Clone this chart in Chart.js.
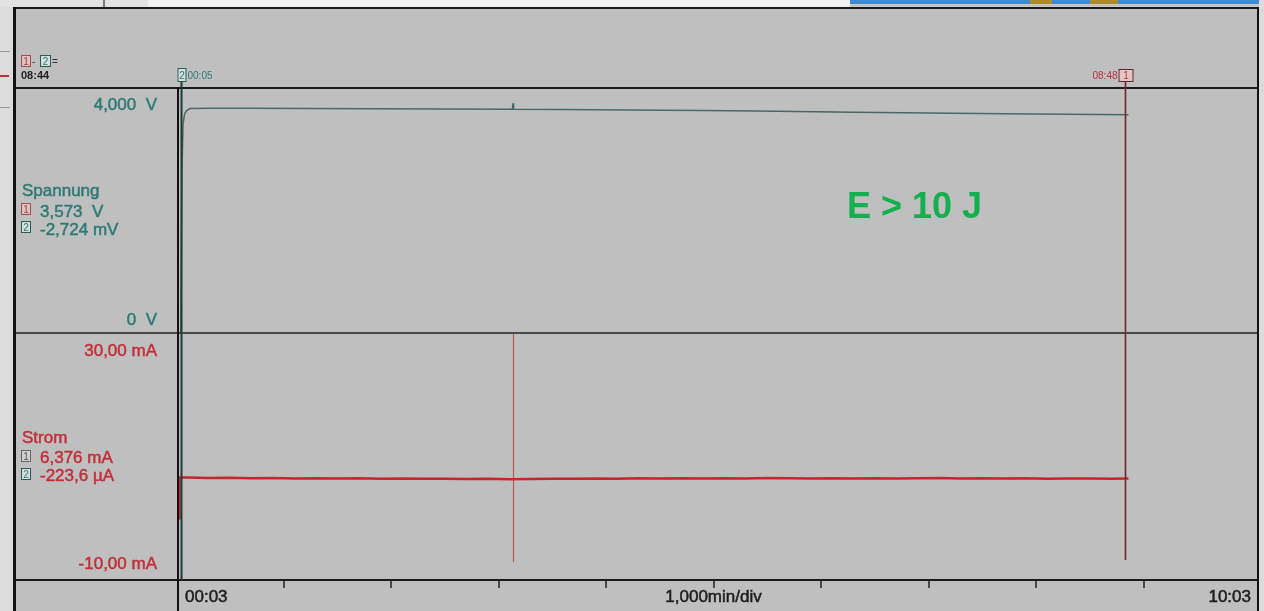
<!DOCTYPE html>
<html>
<head>
<meta charset="utf-8">
<script src="https://cdn.jsdelivr.net/npm/chart.js@4.4.1/dist/chart.umd.min.js"></script>
<style>
  html, body { margin: 0; padding: 0; background: #bfbfbf; overflow: hidden; }
  #wrap { position: relative; width: 1264px; height: 611px; }
  canvas { position: absolute; left: 0; top: 0; }
</style>
</head>
<body>
<div id="wrap">
  <canvas id="uChart" width="1264" height="611"></canvas>
  <canvas id="iChart" width="1264" height="611"></canvas>
</div>
<script>
// time axis: minutes after 00:03, 1,000 min/div, 10 div
const uTime = [0.045, 0.055, 0.065, 0.08, 0.1, 0.13, 0.3, 0.7, 1.2, 1.8, 2.5, 3.13, 3.135, 3.14, 3.6, 4.2, 4.9, 5.6, 6.3, 7.0, 7.7, 8.3, 8.86];
const uVals = [0.0, 2.6, 3.4, 3.58, 3.63, 3.665, 3.67, 3.668, 3.665, 3.662, 3.658, 3.655, 3.75, 3.655, 3.65, 3.642, 3.632, 3.62, 3.605, 3.592, 3.58, 3.572, 3.565];

const iTime = [0.028, 0.032, 0.1, 0.3, 0.5, 0.7, 0.9, 1.1, 1.3, 1.5, 1.7, 1.9, 2.1, 2.3, 2.5, 2.7, 2.9, 3.1, 3.3, 3.5, 3.7, 3.9, 4.1, 4.3, 4.5, 4.7, 4.9, 5.1, 5.3, 5.5, 5.7, 5.9, 6.1, 6.3, 6.5, 6.7, 6.9, 7.1, 7.3, 7.5, 7.7, 7.9, 8.1, 8.3, 8.5, 8.7, 8.86];
const iVals = [0.0, 6.6, 6.58, 6.52, 6.55, 6.47, 6.5, 6.44, 6.48, 6.42, 6.46, 6.4, 6.44, 6.38, 6.41, 6.36, 6.39, 6.32, 6.37, 6.41, 6.38, 6.44, 6.4, 6.46, 6.42, 6.47, 6.43, 6.49, 6.45, 6.5, 6.46, 6.44, 6.48, 6.43, 6.47, 6.42, 6.46, 6.5, 6.45, 6.48, 6.43, 6.46, 6.41, 6.45, 6.42, 6.4, 6.44];

const cursorTimes = [0.05, 8.83];   // cursor 2, cursor 1
const markerTimes = [3.135];
const divTicks = [1, 2, 3, 4, 5, 6, 7, 8, 9];

const FONT = "'Liberation Sans', Arial, sans-serif";
const TEAL = '#2f7a77';
const RED = '#c2303a';

function pts(t, v) { return t.map((x, i) => ({ x: x, y: v[i] })); }

function baseOptions(padTop, padBottom, yMin, yMax) {
    return {
        responsive: false,
        animation: false,
        events: [],
        layout: { padding: { left: 176, right: 13, top: padTop, bottom: padBottom } },
        plugins: { legend: { display: false }, tooltip: { enabled: false } },
        elements: { point: { radius: 0 }, line: { tension: 0 } },
        scales: {
            x: { type: 'linear', min: 0, max: 10, display: false },
            y: { min: yMin, max: yMax, display: false }
        }
    };
}

function box(ctx, x, y, w, h, label, stroke, fill, color) {
    ctx.fillStyle = fill;
    ctx.fillRect(x, y, w, h);
    ctx.strokeStyle = stroke;
    ctx.lineWidth = 1;
    ctx.strokeRect(x + 0.5, y + 0.5, w - 1, h - 1);
    ctx.fillStyle = color;
    ctx.font = '10px ' + FONT;
    ctx.textAlign = 'center';
    ctx.textBaseline = 'middle';
    ctx.fillText(label, x + w / 2, y + h / 2 + 1);
}

function text(ctx, s, x, y, color, font, align, thick) {
    ctx.fillStyle = color;
    ctx.font = font;
    ctx.textAlign = align || 'left';
    ctx.textBaseline = 'alphabetic';
    ctx.fillText(s, x, y);
    if (thick) {
        // JPEG-like heavier strokes
        ctx.strokeStyle = color;
        ctx.lineWidth = thick;
        ctx.strokeText(s, x, y);
    }
}

// Spannung
const uChart = new Chart(document.getElementById('uChart'), {
    type: 'line',
    data: {
        datasets: [{
            data: pts(uTime, uVals),
            borderColor: '#4a6666',
            borderWidth: 1.5
        }]
    },
    options: baseOptions(88, 278, 0, 4)
});

// Strom + Rahmen, Beschriftung, Cursor
const decor = {
    id: 'decor',
    beforeDatasetsDraw(chart) {
        const ctx = chart.ctx;
        const xs = chart.scales.x;
        ctx.save();
        markerTimes.forEach(t => {
            const x = Math.round(xs.getPixelForValue(t)) + 0.5;
            ctx.strokeStyle = '#c45858';
            ctx.lineWidth = 1.2;
            ctx.beginPath();
            ctx.moveTo(x, 334);
            ctx.lineTo(x, 562);
            ctx.stroke();
        });
        ctx.restore();
    },
    afterDraw(chart) {
        const ctx = chart.ctx;
        const xs = chart.scales.x;
        ctx.save();

        // outer strips
        ctx.fillStyle = '#dcdcdc';
        ctx.fillRect(0, 0, 13, 611);
        ctx.fillRect(1259, 0, 5, 611);
        ctx.fillStyle = '#e2e2e2';
        ctx.fillRect(0, 0, 148, 7);
        ctx.fillStyle = '#f1f1f1';
        ctx.fillRect(148, 0, 702, 7);
        ctx.fillStyle = '#c6c6c6';
        ctx.fillRect(850, 0, 409, 7);
        ctx.fillStyle = '#3d8bd2';
        ctx.fillRect(850, 0, 409, 4);
        ctx.fillStyle = '#b08a2a';
        ctx.fillRect(1030, 0, 22, 4);
        ctx.fillRect(1090, 0, 28, 4);
        ctx.fillStyle = '#777';
        ctx.fillRect(103, 0, 2, 7);
        ctx.fillStyle = '#9a9a9a';
        ctx.fillRect(0, 51, 10, 1);
        ctx.fillRect(0, 107, 10, 1);
        ctx.fillStyle = '#c03030';
        ctx.fillRect(0, 75, 9, 2);

        // frame
        ctx.strokeStyle = '#1a1a1a';
        ctx.lineWidth = 2;
        ctx.beginPath();
        ctx.moveTo(14, 8); ctx.lineTo(1258, 8);
        ctx.moveTo(14, 88); ctx.lineTo(1258, 88);
        ctx.moveTo(14, 580); ctx.lineTo(1258, 580);
        ctx.stroke();
        ctx.strokeStyle = '#4a4a4a';
        ctx.beginPath();
        ctx.moveTo(14, 333); ctx.lineTo(1258, 333);
        ctx.stroke();
        ctx.strokeStyle = '#111';
        ctx.lineWidth = 3;
        ctx.beginPath();
        ctx.moveTo(14.5, 7); ctx.lineTo(14.5, 611);
        ctx.stroke();
        ctx.lineWidth = 2;
        ctx.beginPath();
        ctx.moveTo(178, 88); ctx.lineTo(178, 611);
        ctx.moveTo(1258, 7); ctx.lineTo(1258, 611);
        ctx.stroke();

        // division ticks
        ctx.strokeStyle = '#222';
        ctx.lineWidth = 1.5;
        ctx.beginPath();
        divTicks.forEach(d => {
            const x = Math.round(xs.getPixelForValue(d));
            ctx.moveTo(x, 580); ctx.lineTo(x, 588);
        });
        ctx.stroke();

        // cursors
        const c2 = Math.round(xs.getPixelForValue(cursorTimes[0])) + 0.5;
        const c1 = Math.round(xs.getPixelForValue(cursorTimes[1])) + 0.5;
        ctx.lineWidth = 2;
        ctx.strokeStyle = '#1e3a3a';
        ctx.beginPath();
        ctx.moveTo(c2, 82); ctx.lineTo(c2, 580);
        ctx.stroke();
        ctx.lineWidth = 1.6;
        ctx.strokeStyle = '#742626';
        ctx.beginPath();
        ctx.moveTo(c1, 82); ctx.lineTo(c1, 560);
        ctx.stroke();
        box(ctx, c2 - 4, 68, 9, 14, '2', '#2a5a5a', '#d4dede', TEAL);
        text(ctx, '00:05', c2 + 6, 79, TEAL, '10px ' + FONT);
        box(ctx, c1 - 7, 69, 15, 13, '1', '#5a2a2a', '#e6c4c4', '#a04040');
        text(ctx, '08:48', c1 - 8, 79, RED, '10px ' + FONT, 'right');

        // top-left difference
        box(ctx, 21, 55, 10, 12, '1', '#a05050', '#e0c0c0', '#a04040');
        text(ctx, '-', 32, 65, '#333', '10px ' + FONT);
        box(ctx, 40, 55, 11, 12, '2', '#2a5a5a', '#d4dede', TEAL);
        text(ctx, '=', 52, 65, '#333', '10px ' + FONT);
        text(ctx, '08:44', 21, 79, '#222', 'bold 11px ' + FONT);

        // Spannung panel labels
        const f = '17px ' + FONT;
        const th = 0.5;
        text(ctx, '4,000  V', 157, 110, TEAL, f, 'right', th);
        text(ctx, '0  V', 157, 325, TEAL, f, 'right', th);
        text(ctx, 'Spannung', 22, 196, TEAL, f, 'left', th);
        box(ctx, 21, 203, 10, 12, '1', '#a05050', '#e0c0c0', '#a04040');
        text(ctx, '3,573  V', 40, 217, TEAL, f, 'left', th);
        box(ctx, 21, 221, 10, 12, '2', '#2a5a5a', '#d4dede', TEAL);
        text(ctx, '-2,724 mV', 40, 235, TEAL, f, 'left', th);

        // Strom panel labels
        text(ctx, '30,00 mA', 157, 356, RED, f, 'right', th);
        text(ctx, '-10,00 mA', 157, 569, RED, f, 'right', th);
        text(ctx, 'Strom', 22, 443, RED, f, 'left', th);
        box(ctx, 21, 450, 10, 12, '1', '#666', '#d0d0d0', '#555');
        text(ctx, '6,376 mA', 40, 463, RED, f, 'left', th);
        box(ctx, 21, 468, 10, 12, '2', '#2a5a5a', '#d4dede', TEAL);
        text(ctx, '-223,6 µA', 40, 481, RED, f, 'left', th);

        // time axis labels
        text(ctx, '00:03', 185, 602, '#1e1e1e', f, 'left', th);
        text(ctx, '1,000min/div', xs.getPixelForValue(5), 602, '#1e1e1e', f, 'center', th);
        text(ctx, '10:03', 1251, 602, '#1e1e1e', f, 'right', th);

        // annotation
        text(ctx, 'E > 10 J', 847, 218, '#14b04f', 'bold 36px ' + FONT);

        ctx.restore();
    }
};

const iChart = new Chart(document.getElementById('iChart'), {
    type: 'line',
    data: {
        datasets: [{
            data: pts(iTime, iVals),
            borderColor: '#c4282e',
            borderWidth: 2.5
        }]
    },
    options: baseOptions(333, 31, -10, 30),
    plugins: [decor]
});
</script>
</body>
</html>
